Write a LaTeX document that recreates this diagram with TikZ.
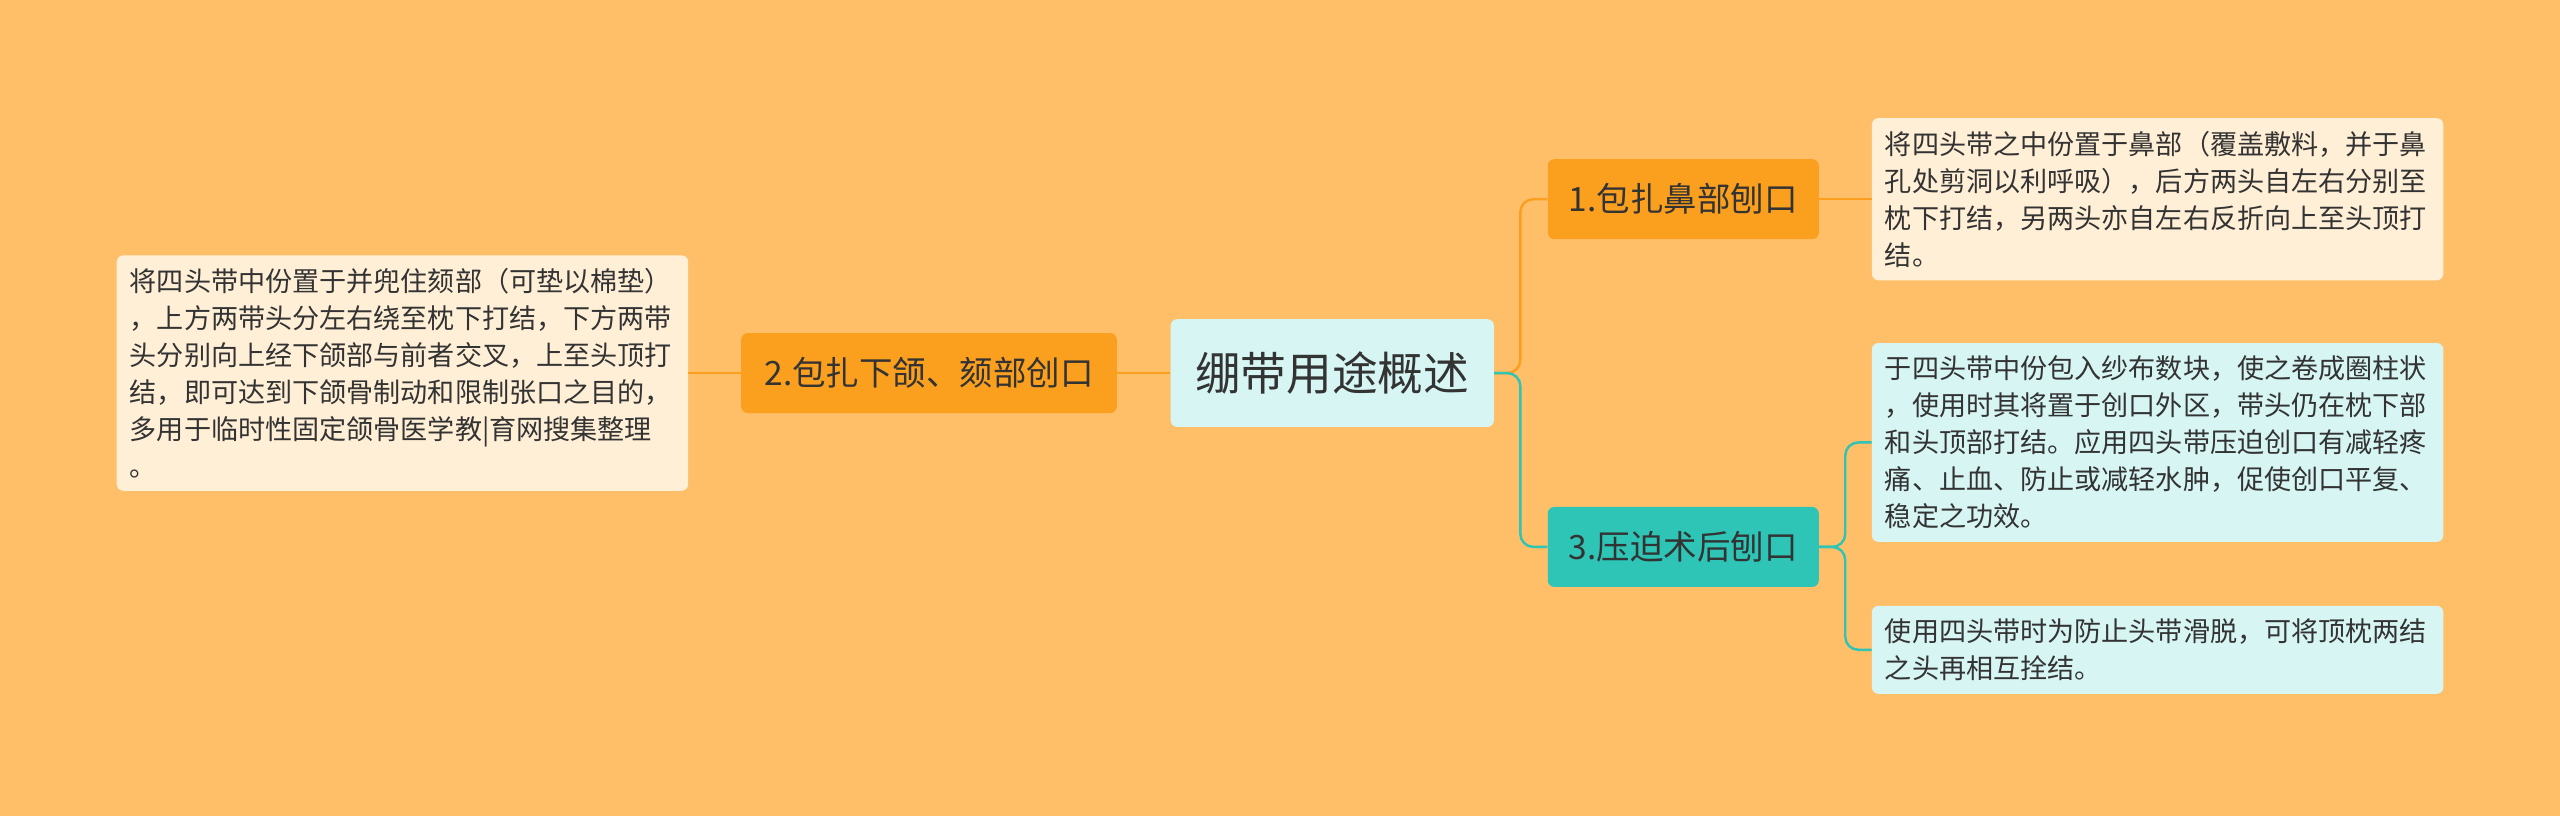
\documentclass[tikz,border=0pt]{standalone}
\usepackage{fontspec}
\setmainfont{Noto Sans CJK SC}
\usetikzlibrary{positioning}
\definecolor{bgorange}{HTML}{FFBF69}
\definecolor{orangebox}{HTML}{FA9F1E}
\definecolor{tealbox}{HTML}{2EC4B6}
\definecolor{centerfill}{HTML}{D6F5F3}
\definecolor{creamfill}{HTML}{FFEFD6}
\definecolor{cyanfill}{HTML}{D6F5F3}
\definecolor{txt}{HTML}{333333}
\tikzset{
  hub/.style={fill=centerfill, rounded corners=4pt, minimum width=198pt, minimum height=66pt, text=txt, font=\fontsize{28}{32}\selectfont},
  topic/.style={rounded corners=4pt, minimum height=49pt, text=txt, font=\fontsize{20.5}{24}\selectfont},
  leaf/.style={rounded corners=4pt, align=left, text width=334pt, inner sep=8pt, text=txt, font=\fontsize{16.6}{22.6}\selectfont},
  orangelink/.style={draw=orangebox, line width=1.5pt, rounded corners=8pt},
  teallink/.style={draw=tealbox, line width=1.5pt, rounded corners=8pt}
}
\begin{document}
\begin{tikzpicture}[x=1pt,y=-1pt]
\fill[bgorange] (0,0) rectangle (1568,500);
\useasboundingbox (0,0) rectangle (1568,500);

% centre
\node[hub] (hub) at (816,228.5) {绷带用途概述};

% topics
\node[topic, fill=orangebox, minimum width=166pt] (nose) at (1031,122) {1.包扎鼻部刨口};
\node[topic, fill=tealbox, minimum width=166pt] (press) at (1031,335) {3.压迫术后刨口};
\node[topic, fill=orangebox, minimum width=230pt] (jaw) at (569,228.5) {2.包扎下颌、颏部创口};

% leaves
\node[leaf, fill=creamfill] (jawleaf) at (246.5,228.5) {将四头带中份置于并兜住颏部（可垫以棉垫）\\，上方两带头分左右绕至枕下打结，下方两带\\头分别向上经下颌部与前者交叉，上至头顶打\\结，即可达到下颌骨制动和限制张口之目的，\\多用于临时性固定颌骨医学教|育网搜集整理\\。};
\node[leaf, fill=creamfill] (noseleaf) at (1321.5,122) {将四头带之中份置于鼻部（覆盖敷料，并于鼻\\孔处剪洞以利呼吸），后方两头自左右分别至\\枕下打结，另两头亦自左右反折向上至头顶打\\结。};
\node[leaf, fill=cyanfill] (pressleaf) at (1321.5,271) {于四头带中份包入纱布数块，使之卷成圈柱状\\，使用时其将置于创口外区，带头仍在枕下部\\和头顶部打结。应用四头带压迫创口有减轻疼\\痛、止血、防止或减轻水肿，促使创口平复、\\稳定之功效。};
\node[leaf, fill=cyanfill] (slipleaf) at (1321.5,398) {使用四头带时为防止头带滑脱，可将顶枕两结\\之头再相互拴结。};

% links
\draw[orangelink] (hub.east) -- ++(16,0) |- (nose.west);
\draw[teallink] (hub.east) -- ++(16,0) |- (press.west);
\draw[orangelink] (hub.west) -- (jaw.east);
\draw[orangelink] (jaw.west) -- (jawleaf.east);
\draw[orangelink] (nose.east) -- (noseleaf.west);
\draw[teallink] (press.east) -- ++(16,0) |- (pressleaf.west);
\draw[teallink] (press.east) -- ++(16,0) |- (slipleaf.west);
\end{tikzpicture}
\end{document}
